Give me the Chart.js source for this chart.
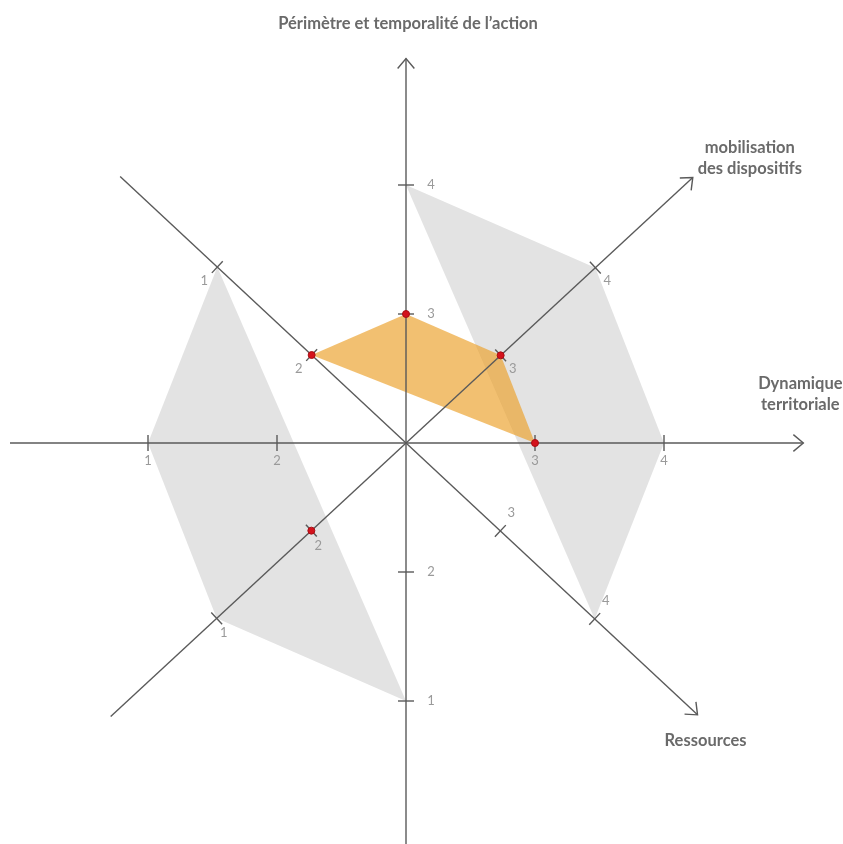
<!DOCTYPE html>
<html><head><meta charset="utf-8">
<script src="https://cdn.jsdelivr.net/npm/chart.js@4"></script>
<style>html,body{margin:0;padding:0;background:#fff;}#wrap{width:843px;height:844px;position:relative;}</style>
</head><body><div id="wrap"><canvas id="c"></canvas></div>
<script>
// ---- DATA ----
const directions = ['N','NE','E','SE','S','SW','W','NW'];
const positiveDirs = ['N','NE','E','SE'];     // half-axes carrying values 3..4
const negativeDirs = ['S','SW','W','NW'];     // half-axes carrying values 2..1
const positiveTicks = [3, 4];
const negativeTicks = [2, 1];
const axisTitleN = ['Périmètre et temporalité de l’action'];
const axisTitleNE = ['mobilisation', 'des dispositifs'];
const axisTitleE = ['Dynamique', 'territoriale'];
const axisTitleSE = ['Ressources'];

const greyUpperDirs = ['N','NE','E','SE'];
const greyUpperValues = [4, 4, 4, 4];
const greyLowerDirs = ['S','SW','W','NW'];
const greyLowerValues = [1, 1, 1, 1];
const profileDirs = ['NW','N','NE','E'];
const profileValues = [2, 3, 3, 3];
const markerDirs = ['NW','N','NE','E','SW'];
const markerValues = [2, 3, 3, 3, 2];

// ---- LAYOUT / STYLE ----
const UNIT = 129;
const CX = 406, CY = 443, W = 843, H = 844;
const angleOf = {N:90, NE:42.8, E:0, SE:-43, S:-90, SW:-137.2, W:180, NW:137};
const axisExtent = {N:2.98, S:3.2, E:3.08, W:3.07, NE:3.03, SW:3.12, SE:3.09, NW:3.03};
const labelOffset = {N:[25,0], S:[25,0], E:[0,18], W:[0,18], NE:[12,13], SE:[11,-18], NW:[-13,14], SW:[7,15]};
const isPositive = d => positiveDirs.includes(d);
function radiusOf(dir, v){ return isPositive(dir) ? v - 2 : 3 - v; }
function toXY(dir, v){
  const r = radiusOf(dir, v), a = angleOf[dir] * Math.PI / 180;
  return {x: r * Math.cos(a), y: r * Math.sin(a)};
}
function polygon(dirs, vals){
  const pts = dirs.map((d, i) => toXY(d, vals[i]));
  pts.push(pts[0]);
  return pts;
}

const axesPlugin = {
  id: 'crossAxes',
  afterDatasetDraw(chart, args){
    if (args.index !== 1) return;
    const ctx = chart.ctx, sx = chart.scales.x, sy = chart.scales.y;
    const P = (ux, uy) => [sx.getPixelForValue(ux), sy.getPixelForValue(uy)];
    const dirPt = (d, r) => { const a = angleOf[d]*Math.PI/180; return P(r*Math.cos(a), r*Math.sin(a)); };
    ctx.save();
    ctx.strokeStyle = '#5a5a5a';
    ctx.lineWidth = 1.4;
    const pairs = [['N','S'],['NE','SW'],['E','W'],['SE','NW']];
    pairs.forEach(([p, n]) => {
      const a = dirPt(p, axisExtent[p]), b = dirPt(n, axisExtent[n]);
      ctx.beginPath(); ctx.moveTo(b[0], b[1]); ctx.lineTo(a[0], a[1]); ctx.stroke();
      const ang = Math.atan2(a[1]-b[1], a[0]-b[0]);
      const L = 13, sp = 40*Math.PI/180;
      ctx.beginPath();
      ctx.moveTo(a[0] - L*Math.cos(ang - sp), a[1] - L*Math.sin(ang - sp));
      ctx.lineTo(a[0], a[1]);
      ctx.lineTo(a[0] - L*Math.cos(ang + sp), a[1] - L*Math.sin(ang + sp));
      ctx.stroke();
    });
    ctx.font = '13px Lato, "Liberation Sans", sans-serif';
    ctx.fillStyle = '#9a9a9a';
    ctx.textAlign = 'center'; ctx.textBaseline = 'middle';
    directions.forEach(d => {
      const ticks = isPositive(d) ? positiveTicks : negativeTicks;
      const a = angleOf[d]*Math.PI/180;
      ticks.forEach(t => {
        const p = dirPt(d, radiusOf(d, t));
        const px = -Math.sin(a), py = -Math.cos(a);
        ctx.beginPath();
        ctx.moveTo(p[0] - 8*px, p[1] - 8*py); ctx.lineTo(p[0] + 8*px, p[1] + 8*py);
        ctx.stroke();
        const o = labelOffset[d];
        ctx.fillText(String(t), p[0] + o[0], p[1] + o[1]);
      });
    });
    ctx.font = 'bold 16.5px Lato, "Open Sans", sans-serif';
    ctx.fillStyle = '#6a6a6a';
    const drawLines = (lines, x, y, lh) => lines.forEach((s, i) => ctx.fillText(s, x, y + i*lh));
    const tN = dirPt('N', axisExtent.N);
    drawLines(axisTitleN, tN[0] + 2, tN[1] - 35, 21);
    const tNE = dirPt('NE', axisExtent.NE);
    drawLines(axisTitleNE, tNE[0] + 57, tNE[1] - 30, 21);
    const tE = dirPt('E', axisExtent.E);
    drawLines(axisTitleE, tE[0] - 3, tE[1] - 59, 21);
    const tSE = dirPt('SE', axisExtent.SE);
    drawLines(axisTitleSE, tSE[0] + 8, tSE[1] + 26, 21);
    ctx.restore();
  }
};

new Chart(document.getElementById('c'), {
  type: 'scatter',
  data: {
    datasets: [
      { label: 'points', data: markerDirs.map((d, i) => toXY(d, markerValues[i])), showLine: false, clip: false,
        pointRadius: 3.5, pointBackgroundColor: '#d4121c', pointBorderColor: '#a80f15', pointBorderWidth: 1 },
      { label: 'profil', data: polygon(profileDirs, profileValues), showLine: true, fill: 'shape',
        backgroundColor: 'rgba(236,160,40,0.66)', borderWidth: 0, borderColor: 'rgba(0,0,0,0)', pointRadius: 0, tension: 0 },
      { label: 'zone haute', data: polygon(greyUpperDirs, greyUpperValues), showLine: true, fill: 'shape',
        backgroundColor: '#e3e3e3', borderWidth: 0, borderColor: 'rgba(0,0,0,0)', pointRadius: 0, tension: 0 },
      { label: 'zone basse', data: polygon(greyLowerDirs, greyLowerValues), showLine: true, fill: 'shape',
        backgroundColor: '#e3e3e3', borderWidth: 0, borderColor: 'rgba(0,0,0,0)', pointRadius: 0, tension: 0 }
    ]
  },
  options: {
    responsive: true, maintainAspectRatio: false, animation: false,
    layout: { padding: 0, autoPadding: false },
    plugins: { legend: { display: false }, tooltip: { enabled: false }, title: { display: false } },
    scales: {
      x: { type: 'linear', display: false, min: -CX/UNIT, max: (W-CX)/UNIT },
      y: { type: 'linear', display: false, min: -(H-CY)/UNIT, max: CY/UNIT }
    }
  },
  plugins: [axesPlugin]
});
</script>
</body></html>
